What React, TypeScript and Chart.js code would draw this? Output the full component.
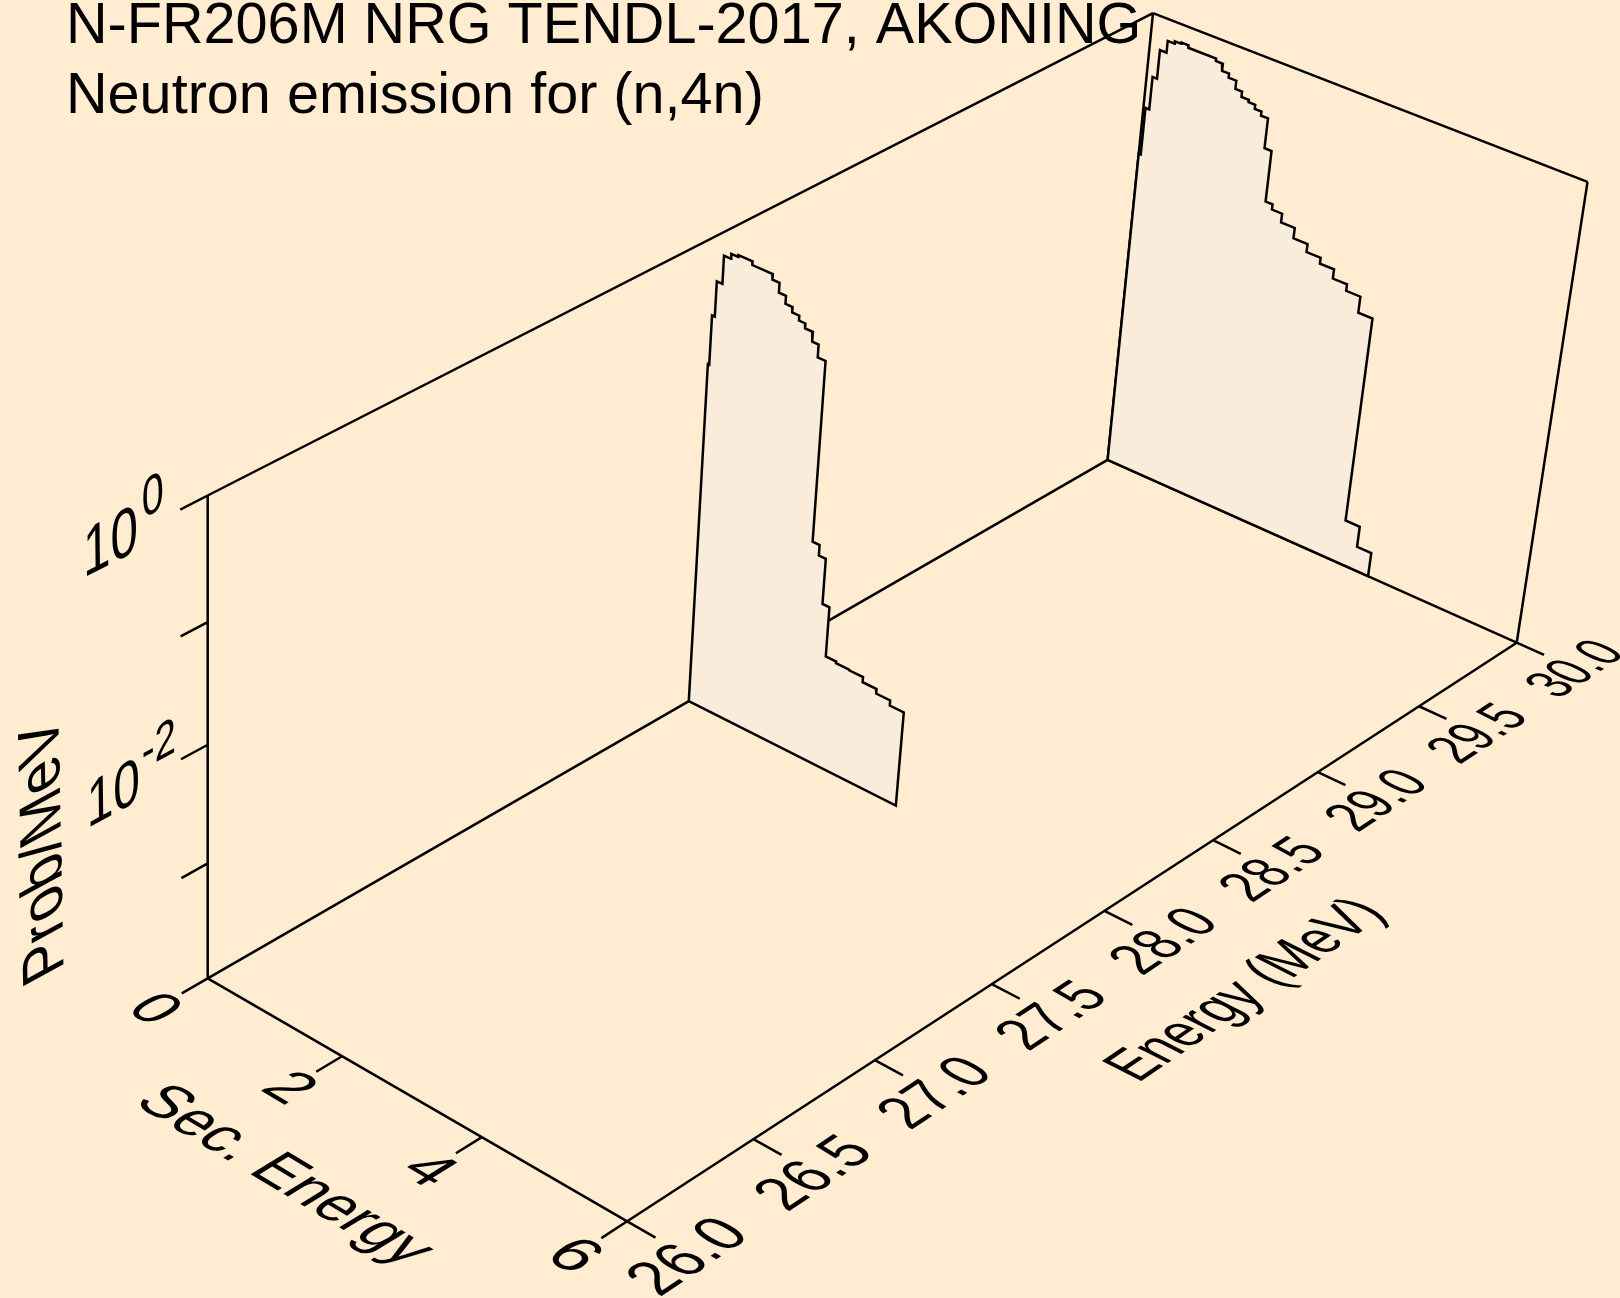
import React, { useEffect, useRef } from "react";
import { Chart, registerables } from "chart.js";
Chart.register(...registerables);

const WIDTH = 1620;
const HEIGHT = 1298;
const BG = "#FFECD1";
const SLICE_FILL = "#F9ECDB";
const FONT = "'Liberation Sans', Arial, sans-serif";

const titleLines = ["N-FR206M NRG TENDL-2017, AKONING", "Neutron emission for (n,4n)"];
const energyTicks = [26, 26.5, 27, 27.5, 28, 28.5, 29, 29.5, 30];
const secTicks = [0, 2, 4, 6];
const probTicksLog = [0, -1, -2, -3, -4];
const probLabels = [
  { log: 0, exp: "0" },
  { log: -2, exp: "-2" },
];

const slice28Energy = 28;
const slice28Edges = [0, 0.02, 0.06, 0.14, 0.24, 0.34, 0.54, 0.83, 0.93, 1.03, 1.13, 1.23, 1.32, 1.43, 1.52, 1.63, 1.73, 1.83, 1.93, 2.08, 2.27, 2.47, 2.67, 2.87, 3.07];
const slice28Prob = [0.0891, 0.229, 0.447, 0.759, 0.832, 0.861, 0.804, 0.724, 0.603, 0.519, 0.468, 0.427, 0.389, 0.324, 0.254, 0.00776, 0.00631, 0.00257, 0.000955, 0.000923, 0.000912, 0.000822, 0.00075, 0.000676];

const slice30Energy = 30;
const slice30Edges = [0, 0.03, 0.085, 0.15, 0.245, 0.345, 0.44, 0.54, 0.94, 1.04, 1.14, 1.25, 1.345, 1.45, 1.545, 1.64, 1.74, 1.84, 1.94, 2.085, 2.28, 2.48, 2.68, 2.88, 3.08, 3.28, 3.48, 3.685, 3.89];
const slice30Prob = [0.0617, 0.157, 0.299, 0.525, 0.661, 0.692, 0.708, 0.676, 0.646, 0.562, 0.519, 0.442, 0.398, 0.38, 0.351, 0.324, 0.18, 0.0661, 0.0596, 0.0501, 0.0407, 0.0347, 0.0309, 0.0257, 0.0226, 0.0164, 0.000251, 0.000164];

// Perspective camera: floor corners and the tops of the upright edges.
const C0 = [207.7, 978.4];
const C1 = [1107.6, 459.8];
const C2 = [1516.7, 642.7];
const C3 = [627.2, 1221.3];
const sxq = C0[0] - C1[0] + C2[0] - C3[0];
const syq = C0[1] - C1[1] + C2[1] - C3[1];
const d1x = C1[0] - C2[0], d2x = C3[0] - C2[0], d1y = C1[1] - C2[1], d2y = C3[1] - C2[1];
const det = d1x * d2y - d2x * d1y;
const G = (sxq * d2y - d2x * syq) / det;
const H = (d1x * syq - sxq * d1y) / det;
const CW = -0.0625;
const A0 = 207.7 * (1 + CW) - 207.7;
const A1 = 1153 * (1 + G + CW) - C1[0] * (1 + G) - A0;
const BW = 495.5 * (1 + CW) - 978.4;

function project(energy: number, sec: number, logP: number) {
  const u = (energy - 26) / 4;
  const v = sec / 6;
  const w = (logP + 4) / 4;
  const den = 1 + G * u + H * v + CW * w;
  const nx = C0[0] + (C1[0] * (1 + G) - C0[0]) * u + (C3[0] * (1 + H) - C0[0]) * v + (A0 + A1 * u) * w;
  const ny = C0[1] + (C1[1] * (1 + G) - C0[1]) * u + (C3[1] * (1 + H) - C0[1]) * v + BW * w;
  return { x: nx / den, y: ny / den };
}

const FLOOR = -4;
const GAP = { x: NaN, y: NaN };

function sliceOutline(energy: number, edges: number[], prob: number[]) {
  const pts = [project(energy, edges[0], FLOOR)];
  prob.forEach((p, i) => {
    const lg = Math.log10(p);
    pts.push(project(energy, edges[i], lg), project(energy, edges[i + 1], lg));
  });
  pts.push(project(energy, edges[edges.length - 1], FLOOR));
  pts.push(pts[0]);
  return pts;
}

function segs(list: number[][][]) {
  const out: { x: number; y: number }[] = [];
  list.forEach(([a, b]) => {
    out.push(project(a[0], a[1], a[2]), project(b[0], b[1], b[2]), GAP);
  });
  return out;
}

function frameSegments() {
  return segs([
    [[26, 0, -4], [30, 0, -4]],
    [[30, 0, -4], [30, 6, -4]],
    [[30, 6, -4], [26, 6, -4]],
    [[26, 6, -4], [26, 0, -4]],
    [[26, 0, -4], [26, 0, 0]],
    [[30, 0, -4], [30, 0, 0]],
    [[30, 6, -4], [30, 5.975, 0]],
    [[26, 0, 0], [30, 0, 0]],
    [[30, 0, 0], [30, 5.975, 0]],
    ...energyTicks.map((e) => [[e, 6, -4], [e, 6.38, -4]]),
    ...secTicks.map((s) => [[26, s, -4], [25.9, s, -4]]),
    ...probTicksLog.map((l) => [[26, 0, l], [25.9, 0, l]]),
  ]);
}

type Frame = "floorE" | "floorS" | "wall" | "wallV";
const KE = 0.00336;
const KS = 0.01257;
const KZ = 0.0082;

function frameAt(f: Frame, e: number, s: number, l: number) {
  const o = project(e, s, l);
  const diff = (q: { x: number; y: number }, k: number) => ({ x: (q.x - o.x) * 100 * k, y: (q.y - o.y) * 100 * k });
  const dE = diff(project(e + 0.01, s, l), KE);
  const dS = diff(project(e, s + 0.01, l), KS);
  const dZ = diff(project(e, s, l + 0.01), KZ);
  const neg = (v: { x: number; y: number }) => ({ x: -v.x, y: -v.y });
  if (f === "floorE") return { a: dE, b: dS };
  if (f === "floorS") return { a: dS, b: neg(dE) };
  if (f === "wall") return { a: dE, b: neg(dZ) };
  return { a: dZ, b: dE };
}

function put(
  ctx: CanvasRenderingContext2D, chart: any, text: string, f: Frame, e: number, s: number, l: number,
  size: number, sx = 1, sy = 1, along = 0, up = 0
) {
  const { a, b } = frameAt(f, e, s, l);
  const o = project(e, s, l);
  const px = chart.scales.x.getPixelForValue(o.x) + a.x * along - b.x * up;
  const py = chart.scales.y.getPixelForValue(o.y) + a.y * along - b.y * up;
  ctx.save();
  ctx.transform(a.x * sx, a.y * sx, b.x * sy, b.y * sy, px, py);
  ctx.font = `${size}px ${FONT}`;
  ctx.fillStyle = "#000";
  ctx.textAlign = "center";
  ctx.textBaseline = "middle";
  ctx.fillText(text, 0, 0);
  ctx.restore();
}

const labelsPlugin = {
  id: "labels3d",
  beforeDraw(chart: any) {
    const { ctx } = chart;
    ctx.save();
    ctx.fillStyle = BG;
    ctx.fillRect(0, 0, WIDTH, HEIGHT);
    ctx.restore();
  },
  afterDraw(chart: any) {
    const { ctx } = chart;
    ctx.save();
    ctx.font = `57.6px ${FONT}`;
    ctx.fillStyle = "#000";
    ctx.textAlign = "left";
    ctx.textBaseline = "alphabetic";
    ctx.fillText(titleLines[0], 66, 43);
    ctx.fillText(titleLines[1], 66, 112.5);
    ctx.restore();
    energyTicks.forEach((e) => put(ctx, chart, e.toFixed(1), "floorE", e, 6.84, FLOOR, 60, 0.92, 1));
    secTicks.forEach((s) => put(ctx, chart, String(s), "floorS", 25.79, s, FLOOR, 60));
    probLabels.forEach(({ log, exp }) => {
      put(ctx, chart, "10", "wall", 25.65, 0, log, 60, 0.87, 1.08);
      put(ctx, chart, exp, "wall", 25.65, 0, log, 48, 0.87, 1.08, exp.length > 1 ? 50 : 45, exp.length > 1 ? 25 : 24);
    });
    put(ctx, chart, "Energy (MeV)", "floorE", 27.97, 8.0, FLOOR, 60, 0.91, 1);
    put(ctx, chart, "Sec. Energy", "floorS", 25.51, 3.02, FLOOR, 60, 0.95, 1);
    put(ctx, chart, "Prob/MeV", "wallV", 25.4, 0, -2.13, 58, 1, 1.08);
  },
};

export default function App() {
  const ref = useRef<HTMLCanvasElement>(null);
  useEffect(() => {
    document.body.style.margin = "0";
    document.body.style.background = BG;
    const line = { showLine: true, pointRadius: 0, borderColor: "#000", borderWidth: 2.5, spanGaps: false, clip: false as any, tension: 0, borderJoinStyle: "miter" as const };
    const chart = new Chart(ref.current!, {
      type: "scatter",
      data: {
        datasets: [
          { ...line, label: "E=28", order: 0, data: sliceOutline(slice28Energy, slice28Edges, slice28Prob), fill: "shape", backgroundColor: SLICE_FILL },
          { ...line, label: "E=30", order: 1, data: sliceOutline(slice30Energy, slice30Edges, slice30Prob), fill: "shape", backgroundColor: SLICE_FILL },
          { ...line, label: "frame", order: 2, data: frameSegments(), fill: false },
        ],
      },
      options: {
        animation: false,
        responsive: false,
        layout: { padding: 0 },
        plugins: { legend: { display: false }, title: { display: false }, tooltip: { enabled: false } },
        scales: {
          x: { type: "linear", display: false, min: 0, max: WIDTH },
          y: { type: "linear", display: false, min: 0, max: HEIGHT, reverse: true },
        },
      },
      plugins: [labelsPlugin],
    });
    return () => chart.destroy();
  }, []);
  return <canvas ref={ref} width={WIDTH} height={HEIGHT} style={{ display: "block" }} />;
}
